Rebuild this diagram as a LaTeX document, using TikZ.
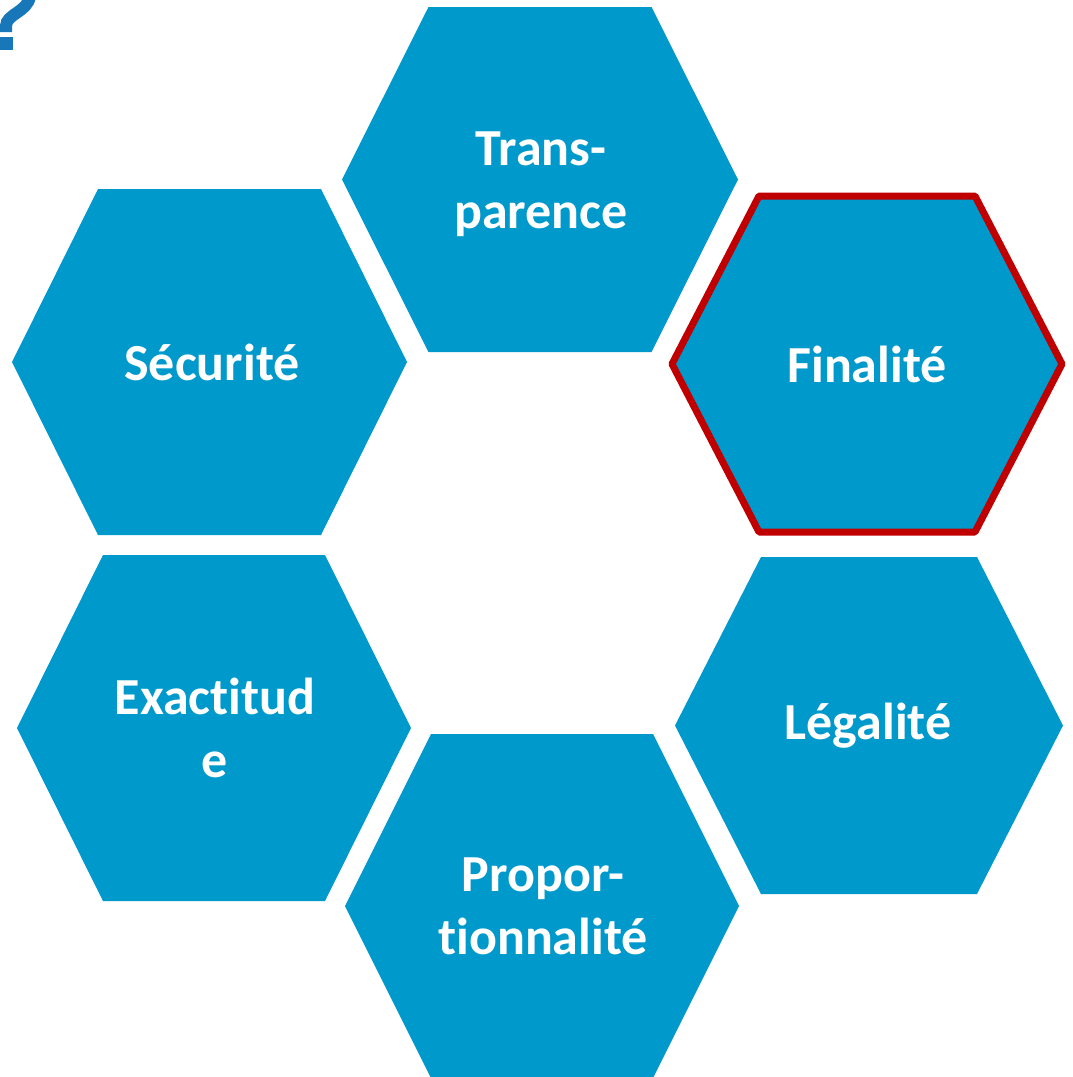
\documentclass[tikz,border=0pt]{standalone}
\usepackage{fontspec}
\setmainfont{Carlito}[Ligatures={NoCommon,NoDiscretionary,NoContextual}]
\begin{document}
\begin{tikzpicture}[x=1pt,y=-1pt,
  hexfill/.style={fill=hexblue},
  hexlabel/.style={text=white,font=\bfseries\fontsize{52}{63}\selectfont,align=center,inner sep=0pt},
  pics/hexa/.style n args={4}{code={
    % #1 half width, #2 half top edge, #3 half height, #4 extra style
    \path[hexfill,#4] (-#1,0) -- (-#2,-#3) -- (#2,-#3) -- (#1,0) -- (#2,#3) -- (-#2,#3) -- cycle;
  }}]
\definecolor{hexblue}{HTML}{0099CC}
\definecolor{markblue}{HTML}{1877B8}
\definecolor{accentred}{HTML}{C00000}
\useasboundingbox (0,0) rectangle (1072,1077);
\clip (0,0) rectangle (1072,1077);

% partially visible question mark in the corner
\draw[markblue,line width=12pt] (30,-4) .. controls (28,12) and (6,14) .. (6,26) -- (6,32);
\fill[markblue] (0,37) rectangle (13,50);

% hexagons
\pic at (540,179.5) {hexa={198}{111.5}{172.5}{}};
\pic at (209.5,362) {hexa={197.5}{111.5}{173}{}};
\pic at (867,364) {hexa={195}{108}{168}{draw=accentred,line width=7pt,line join=round}};
\pic at (214,728) {hexa={197}{111}{173}{}};
\pic at (869,725.5) {hexa={194}{108}{168.5}{}};
\pic at (542,906) {hexa={197}{111}{172}{}};

% labels
\node[hexlabel] (transparence) at (541,184) {Trans-\\parence};
\node[hexlabel] (securite) at (212,362) {Sécurité};
\node[hexlabel] (finalite) at (867,364) {Finalité};
\node[hexlabel] (exactitude) at (215,728) {Exactitud\\e};
\node[hexlabel] (legalite) at (868,726) {Légalité};
\node[hexlabel] (proportionnalite) at (543,906) {Propor-\\tionnalité};
\end{tikzpicture}
\end{document}
